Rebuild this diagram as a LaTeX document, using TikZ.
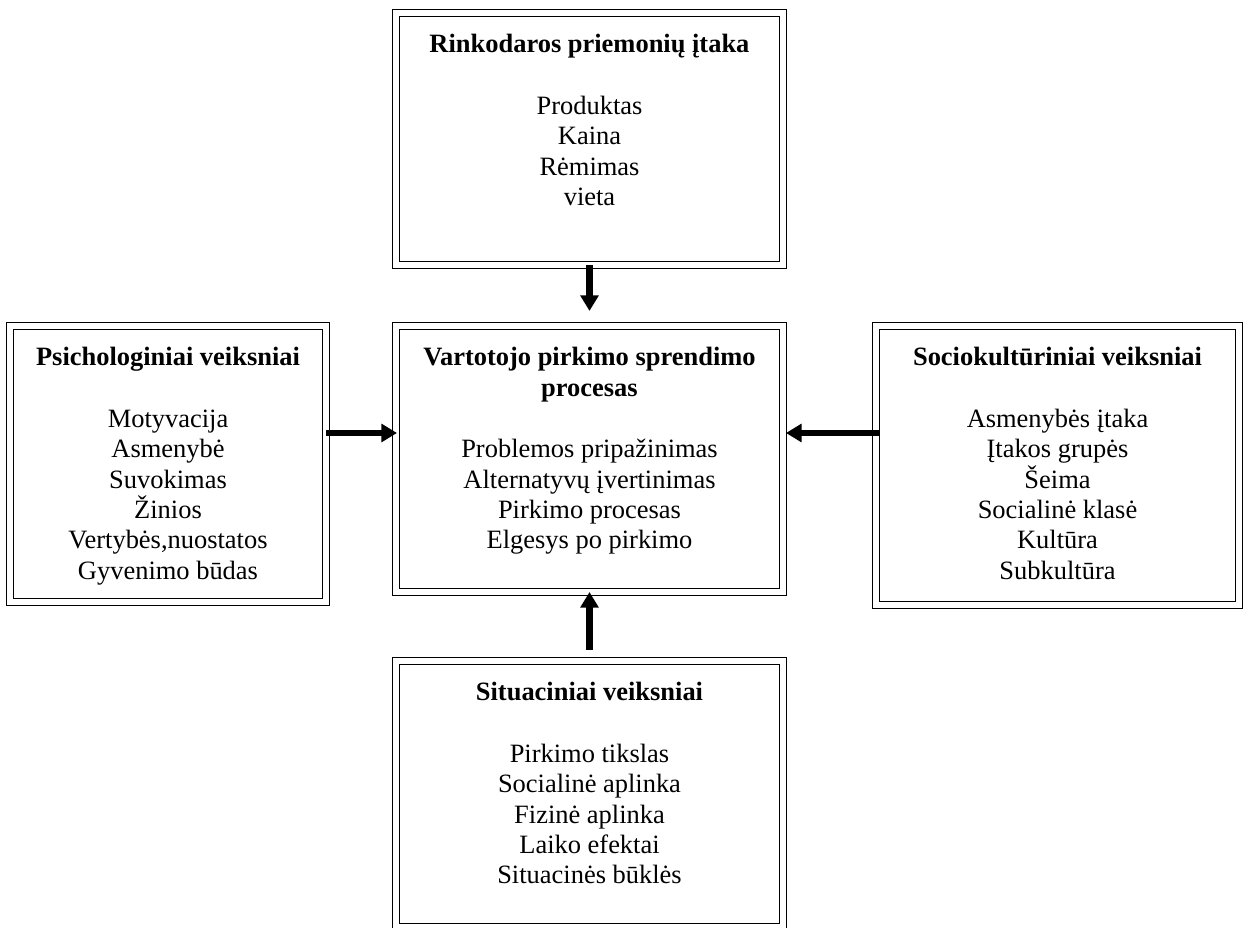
\documentclass[tikz,border=0pt]{standalone}
\usepackage{fontspec}
\setmainfont{Liberation Serif}
\usetikzlibrary{arrows.meta,positioning}

\tikzset{
  box/.style={draw, double, double distance=2.9pt, line width=0.5pt, rectangle, inner sep=0pt, outer sep=0pt},
  boxtext/.style={align=center, inner sep=0pt, font=\fontsize{12.7pt}{14.6pt}\selectfont},
  flow/.style={line width=3pt, -{Triangle[length=7.5pt,width=8.5pt]}}
}

\begin{document}
\begin{tikzpicture}[x=0.48pt, y=-0.48pt]
\useasboundingbox (0,0) rectangle (1248,928);

\node[box, minimum width=185.8pt, minimum height=121pt] (rink) at (589.5,139) {};
\node[box, minimum width=185.8pt, minimum height=127.7pt] (vart) at (589.5,459) {};
\node[box, minimum width=151.7pt, minimum height=132.5pt] (psich) at (168,464) {};
\node[box, minimum width=174.2pt, minimum height=133.9pt] (socio) at (1057.5,465.5) {};
\node[box, minimum width=185.8pt, minimum height=127.7pt] (situ) at (589.5,794) {};

\node[boxtext, below=10pt of rink.north] (rinkT) {\textbf{Rinkodaros priemonių įtaka}\\[15pt] Produktas\\ Kaina\\ Rėmimas\\ vieta};
\node[boxtext, below=10pt of vart.north] (vartT) {\textbf{Vartotojo pirkimo sprendimo}\\ \textbf{procesas}\\[15pt] Problemos pripažinimas\\ Alternatyvų įvertinimas\\ Pirkimo procesas\\ Elgesys po pirkimo};
\node[boxtext, below=10pt of psich.north] (psichT) {\textbf{Psichologiniai veiksniai}\\[15pt] Motyvacija\\ Asmenybė\\ Suvokimas\\ Žinios\\ Vertybės,nuostatos\\ Gyvenimo būdas};
\node[boxtext, below=10pt of socio.north] (socioT) {\textbf{Sociokultūriniai veiksniai}\\[15pt] Asmenybės įtaka\\ Įtakos grupės\\ Šeima\\ Socialinė klasė\\ Kultūra\\ Subkultūra};
\node[boxtext, below=10pt of situ.north] (situT) {\textbf{Situaciniai veiksniai}\\[15pt] Pirkimo tikslas\\ Socialinė aplinka\\ Fizinė aplinka\\ Laiko efektai\\ Situacinės būklės};

\coordinate (lvl) at (0,433);
\draw[flow, shorten <=0pt, shorten >=7.2pt] (rink.south) -- (vart.north);
\draw[flow, shorten <=5.3pt, shorten >=0pt] (situ.north) -- (vart.south);
\draw[flow, shorten <=0pt, shorten >=-0.5pt] (psich.east |- lvl) -- (vart.west |- lvl);
\draw[flow, shorten <=-1.9pt, shorten >=1.4pt] (socio.west |- lvl) -- (vart.east |- lvl);
\end{tikzpicture}
\end{document}
